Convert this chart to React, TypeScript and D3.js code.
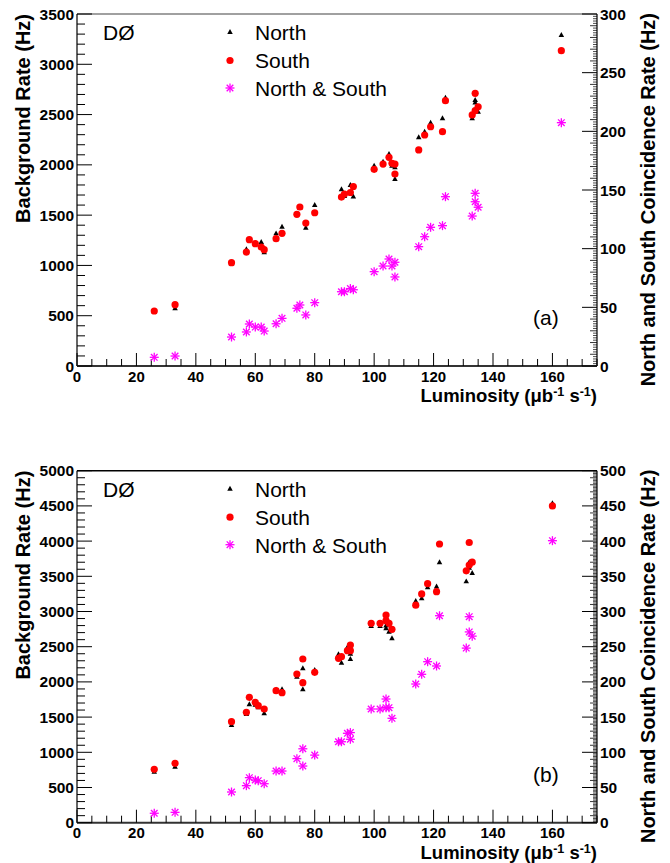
import React from 'react';
import * as d3 from 'd3';

// ---------- data: panel (a) ----------
const lumA = [26, 33, 52, 57, 58, 60, 62, 63, 67, 69, 74, 75, 77, 80, 89, 90, 92, 93, 100, 103, 105, 106, 107, 107, 115, 117, 119, 123, 124, 133, 134, 134, 135, 163];
const northA = [540, 574, 1020, 1160, 1260, 1220, 1233, 1130, 1319, 1385, 1510, 1575, 1375, 1601, 1757, 1690, 1800, 1685, 1992, 2030, 2108, 1990, 1975, 1859, 2274, 2330, 2419, 2463, 2668, 2463, 2645, 2620, 2529, 3291];
const southA = [547, 610, 1027, 1133, 1256, 1216, 1183, 1157, 1266, 1319, 1508, 1581, 1422, 1524, 1680, 1710, 1725, 1785, 1956, 2008, 2075, 2015, 2008, 1909, 2148, 2297, 2379, 2330, 2638, 2496, 2711, 2539, 2578, 3135];
const bothA = [7.4, 8.5, 24.7, 29, 35.8, 33.2, 33.2, 29.8, 36, 40.6, 49.2, 52, 43.5, 54, 63.3, 63.3, 66, 65, 80.4, 85.2, 91.2, 85.2, 88.4, 75.9, 101.7, 110.2, 118.2, 119.6, 144.3, 127.8, 147.2, 140, 135.3, 207.4];

// ---------- data: panel (b) ----------
const lumB = [26, 33, 52, 57, 58, 60, 61, 63, 67, 69, 74, 76, 76, 80, 88, 89, 91, 92, 92, 99, 102, 104, 104, 105, 106, 114, 116, 118, 121, 122, 131, 132, 132, 133, 160];
const northB = [725, 795, 1388, 1544, 1682, 1675, 1640, 1554, 1890, 1895, 2074, 2193, 1895, 2169, 2392, 2273, 2492, 2325, 2400, 2795, 2795, 2761, 2800, 2713, 2619, 3150, 3187, 3344, 3356, 3699, 3428, 3699, 3620, 3547, 4537];
const southB = [758, 844, 1435, 1568, 1781, 1710, 1662, 1615, 1875, 1847, 2112, 2325, 1989, 2136, 2335, 2358, 2443, 2524, 2443, 2832, 2832, 2950, 2869, 2832, 2747, 3090, 3249, 3395, 3281, 3959, 3578, 3980, 3660, 3700, 4499];
const bothB = [13.4, 14.7, 43.6, 52.6, 64, 60.7, 59.7, 55.4, 73.4, 73.4, 91, 105, 80.5, 96, 115, 115, 127, 118.5, 128, 161.5, 161.5, 175.7, 163.4, 163.4, 148.3, 197, 210.8, 228.7, 222.6, 294, 248, 292.6, 271, 265, 400.6];

// ---------- axis ticks ----------
const xTicks = [0, 20, 40, 60, 80, 100, 120, 140, 160];
const leftTicksA = [0, 500, 1000, 1500, 2000, 2500, 3000, 3500];
const rightTicksA = [0, 50, 100, 150, 200, 250, 300];
const leftTicksB = [0, 500, 1000, 1500, 2000, 2500, 3000, 3500, 4000, 4500, 5000];
const rightTicksB = [0, 50, 100, 150, 200, 250, 300, 350, 400, 450, 500];
const legendLabels = ['North', 'South', 'North & South'];

const W = 670;
const H = 863;
const X0 = 77;
const X1 = 597;
const FONT = '"Liberation Sans", Arial, Helvetica, sans-serif';

const tri = (cx: number, cy: number, s = 5.5) => {
  const h = s * 0.9;
  return `M${cx},${cy - h * 0.6}L${cx + s / 2},${cy + h * 0.4}L${cx - s / 2},${cy + h * 0.4}Z`;
};

const Star = ({ cx, cy }: { cx: number; cy: number }) => {
  const a = 4.5;
  const d = 3.3;
  return (
    <g stroke="#ff00ff" strokeWidth={1.3}>
      <line x1={cx - a} y1={cy} x2={cx + a} y2={cy} />
      <line x1={cx} y1={cy - a} x2={cx} y2={cy + a} />
      <line x1={cx - d} y1={cy - d} x2={cx + d} y2={cy + d} />
      <line x1={cx - d} y1={cy + d} x2={cx + d} y2={cy - d} />
    </g>
  );
};

type PanelProps = {
  top: number;
  bottom: number;
  leftMax: number;
  rightMax: number;
  leftTicks: number[];
  rightTicks: number[];
  lum: number[];
  north: number[];
  south: number[];
  both: number[];
  tag: string;
  frameColor: string;
};

const Panel = (p: PanelProps) => {
  const x = d3.scaleLinear().domain([0, 175]).range([X0, X1]);
  const yl = d3.scaleLinear().domain([0, p.leftMax]).range([p.bottom, p.top]);
  const yr = d3.scaleLinear().domain([0, p.rightMax]).range([p.bottom, p.top]);
  const xMinor = d3.range(0, 176, 5).filter((v) => v % 20 !== 0);
  const lMinor = d3.range(0, p.leftMax + 1, 100).filter((v) => v % 500 !== 0);
  const rMed = d3.range(0, p.rightMax + 1, 10).filter((v) => v % 50 !== 0);
  const rMinor = d3.range(0, p.rightMax + 1, 2).filter((v) => v % 10 !== 0);
  const legY = p.top + 18;
  return (
    <g>
      {/* frame */}
      <line x1={X0} y1={p.top} x2={X1} y2={p.top} stroke={p.frameColor} strokeWidth={1.6} />
      <line x1={X0} y1={p.top} x2={X0} y2={p.bottom} stroke="#000" strokeWidth={1.2} />
      <line x1={X1} y1={p.top} x2={X1} y2={p.bottom} stroke="#000" strokeWidth={1.2} />
      <line x1={X0} y1={p.bottom} x2={X1} y2={p.bottom} stroke="#333" strokeWidth={2} />
      {/* x ticks */}
      {xTicks.map((v) => (
        <line key={'xt' + v} x1={x(v)} x2={x(v)} y1={p.bottom} y2={p.bottom - 13} stroke="#000" strokeWidth={1} />
      ))}
      {xMinor.map((v) => (
        <line key={'xm' + v} x1={x(v)} x2={x(v)} y1={p.bottom} y2={p.bottom - 7} stroke="#000" strokeWidth={1} />
      ))}
      {/* left ticks */}
      {p.leftTicks.map((v) => (
        <line key={'lt' + v} x1={X0} x2={X0 + 15} y1={yl(v)} y2={yl(v)} stroke="#000" strokeWidth={1} />
      ))}
      {lMinor.map((v) => (
        <line key={'lm' + v} x1={X0} x2={X0 + 8} y1={yl(v)} y2={yl(v)} stroke="#000" strokeWidth={1} />
      ))}
      {/* right ticks */}
      {p.rightTicks.map((v) => (
        <line key={'rt' + v} x1={X1} x2={X1 - 15} y1={yr(v)} y2={yr(v)} stroke="#000" strokeWidth={1} />
      ))}
      {rMed.map((v) => (
        <line key={'rmd' + v} x1={X1} x2={X1 - 7} y1={yr(v)} y2={yr(v)} stroke="#000" strokeWidth={0.8} />
      ))}
      {rMinor.map((v) => (
        <line key={'rm' + v} x1={X1} x2={X1 - 4} y1={yr(v)} y2={yr(v)} stroke="#000" strokeWidth={0.7} />
      ))}
      {/* tick labels */}
      <g fontFamily={FONT} fontWeight="bold" fontSize={15} fill="#000">
        {xTicks.map((v) => (
          <text key={'xl' + v} x={x(v)} y={p.bottom + 15.5} textAnchor="middle">{v}</text>
        ))}
        {p.leftTicks.map((v) => (
          <text key={'ll' + v} x={74} y={yl(v)} dy="0.36em" textAnchor="end" fontSize={15.5}>{v}</text>
        ))}
        {p.rightTicks.map((v) => (
          <text key={'rl' + v} x={600} y={yr(v)} dy="0.36em" textAnchor="start" fontSize={15.5}>{v}</text>
        ))}
      </g>
      {/* axis titles */}
      <g fontFamily={FONT} fontWeight="bold" fontSize={20} fill="#000">
        <text transform={`translate(29.5,${p.top}) rotate(-90)`} textAnchor="end">Background Rate (Hz)</text>
        <text transform={`translate(655,${p.top - 1}) rotate(-90)`} textAnchor="end">North and South Coincidence Rate (Hz)</text>
        <text x={X1} y={p.bottom + 35.8} textAnchor="end" fontSize={18.5}>
          Luminosity (μb<tspan fontSize={12.5} dy={-5.5}>-1</tspan>
          <tspan dy={5.5}> s</tspan>
          <tspan fontSize={12.5} dy={-5.5}>-1</tspan>
          <tspan dy={5.5}>)</tspan>
        </text>
      </g>
      {/* data */}
      <g>
        {p.lum.map((v, i) => (
          <path key={'n' + i} d={tri(x(v), yl(p.north[i]))} fill="#000" />
        ))}
        {p.lum.map((v, i) => (
          <circle key={'s' + i} cx={x(v)} cy={yl(p.south[i])} r={3.6} fill="#ff0000" />
        ))}
        {p.lum.map((v, i) => (
          <Star key={'b' + i} cx={x(v)} cy={yr(p.both[i])} />
        ))}
      </g>
      {/* legend */}
      <g fontFamily={FONT} fontSize={21} fill="#000">
        <text x={103} y={legY + 8}>DØ</text>
        <path d={tri(230, legY)} fill="#000" />
        <text x={255} y={legY + 8}>{legendLabels[0]}</text>
        <circle cx={230} cy={legY + 28.5} r={3.6} fill="#ff0000" />
        <text x={255} y={legY + 36}>{legendLabels[1]}</text>
        <Star cx={230} cy={legY + 56} />
        <text x={255} y={legY + 64}>{legendLabels[2]}</text>
        <text x={533} y={p.bottom - 41}>{p.tag}</text>
      </g>
    </g>
  );
};

export default function App() {
  return (
    <svg width={W} height={H} style={{ position: 'absolute', left: 0, top: 0, background: '#fff' }}>
      <rect x={0} y={0} width={W} height={H} fill="#fff" />
      <Panel top={14} bottom={366} leftMax={3500} rightMax={300} leftTicks={leftTicksA} rightTicks={rightTicksA}
        lum={lumA} north={northA} south={southA} both={bothA} tag="(a)" frameColor="#808080" />
      <Panel top={470.7} bottom={822.7} leftMax={5000} rightMax={500} leftTicks={leftTicksB} rightTicks={rightTicksB}
        lum={lumB} north={northB} south={southB} both={bothB} tag="(b)" frameColor="#000" />
    </svg>
  );
}
